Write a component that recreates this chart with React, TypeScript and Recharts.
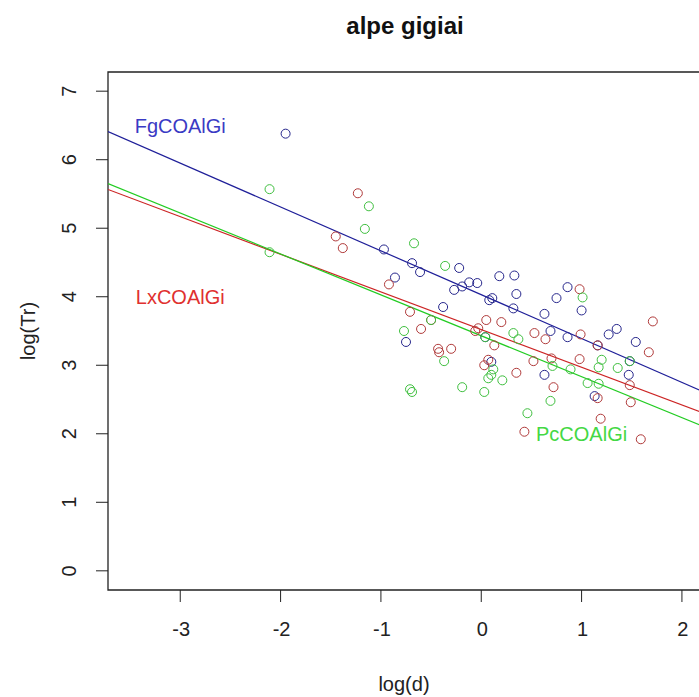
import {
  ComposedChart,
  Scatter,
  XAxis,
  YAxis,
  ReferenceLine,
  ReferenceDot,
  ReferenceArea,
} from "recharts";

const xTicks = [-3, -2, -1, 0, 1, 2];
const yTicks = [0, 1, 2, 3, 4, 5, 6, 7];
const xDomain = [-3.72, 2.22];
const yDomain = [-0.28, 7.28];

// FgCOAlGi
const fgX = [-1.95, -0.97, -0.86, -0.69, -0.61, -0.38, -0.75, -0.22, -0.27, -0.19, -0.12, -0.04, 0.18, 0.33, 0.08, 0.11, 0.35, 0.32, 0.63, 0.86, 0.75, 1.0, 0.69, 0.86, 1.27, 1.35, 1.54, 0.63, 1.47, 1.13, 1.48, 1.16, 0.1, 0.04];
const fgY = [6.38, 4.69, 4.28, 4.49, 4.36, 3.85, 3.34, 4.42, 4.1, 4.15, 4.21, 4.2, 4.3, 4.31, 3.95, 3.98, 4.04, 3.83, 3.75, 4.14, 3.98, 3.8, 3.5, 3.41, 3.45, 3.53, 3.34, 2.86, 2.86, 2.55, 3.06, 3.29, 3.05, 3.41];

// LxCOAlGi
const lxX = [-1.23, -1.45, -1.38, -0.92, -0.71, -0.6, -0.5, -0.43, -0.42, -0.3, -0.06, -0.03, 0.05, 0.2, 0.13, 0.03, 0.07, 0.35, 0.52, 0.53, 0.43, 0.64, 0.7, 0.72, 0.99, 0.98, 0.98, 1.16, 1.48, 1.49, 1.67, 1.71, 1.19, 1.59, 1.16];
const lxY = [5.51, 4.88, 4.71, 4.18, 3.78, 3.53, 3.66, 3.24, 3.19, 3.24, 3.5, 3.54, 3.66, 3.63, 3.29, 3.0, 3.08, 2.89, 3.06, 3.47, 2.03, 3.38, 3.1, 2.68, 3.45, 4.11, 3.09, 3.29, 2.71, 2.46, 3.19, 3.64, 2.22, 1.92, 2.52];

// PcCOAlGi
const pcX = [-2.11, -2.11, -1.12, -1.16, -0.67, -0.36, -0.77, -0.5, -0.71, -0.69, -0.37, -0.19, 0.03, 0.07, 0.1, 0.21, 0.12, 0.04, 0.32, 0.37, 0.46, 0.69, 0.71, 0.89, 1.01, 1.06, 1.17, 1.17, 1.2, 1.36, 1.48];
const pcY = [5.57, 4.65, 5.32, 4.99, 4.78, 4.45, 3.5, 3.66, 2.65, 2.61, 3.06, 2.68, 2.61, 2.81, 2.86, 2.78, 2.94, 3.41, 3.47, 3.38, 2.3, 2.48, 2.99, 2.94, 3.99, 2.74, 2.73, 2.97, 3.08, 2.96, 3.06];

// regression lines: intercept, slope
const fgFit = [4.03, -0.64];
const lxFit = [3.52, -0.55];
const pcFit = [3.43, -0.597];

const series = [
  { name: "FgCOAlGi", xs: fgX, ys: fgY, fit: fgFit, point: "#26268c", line: "#1f1f99", text: "#3a3ac4", at: [-3, 6.5] },
  { name: "LxCOAlGi", xs: lxX, ys: lxY, fit: lxFit, point: "#b03a3a", line: "#cc2424", text: "#e0302f", at: [-3, 4] },
  { name: "PcCOAlGi", xs: pcX, ys: pcY, fit: pcFit, point: "#3fbf3f", line: "#22cc22", text: "#44d844", at: [1, 2] },
];

const font = "'Liberation Sans', Arial, sans-serif";

const Ring = (color: string) => (props: any) => (
  <circle cx={props.cx} cy={props.cy} r={4.5} fill="none" stroke={color} strokeWidth={1} />
);

const XTick = (props: any) => (
  <text x={props.x + 1} y={props.y + 27} textAnchor="middle" dominantBaseline="middle" fontSize={20} fill="#222" fontFamily={font}>
    {props.payload.value}
  </text>
);

const YTick = (props: any) => {
  const x = props.x - 23;
  return (
    <text x={x} y={props.y} transform={`rotate(-90 ${x} ${props.y})`} textAnchor="middle" dominantBaseline="middle" fontSize={20} fill="#222" fontFamily={font}>
      {props.payload.value}
    </text>
  );
};

export default function App() {
  return (
    <div style={{ width: 699, height: 697, overflow: "hidden", position: "relative", background: "#fff" }}>
      <style>{"html,body{margin:0;padding:0;overflow:hidden}"}</style>
      <div style={{ position: "absolute", left: 305, width: 200, top: 12, textAlign: "center", fontFamily: font, fontWeight: "bold", fontSize: 24, color: "#111" }}>
        alpe gigiai
      </div>
      <ComposedChart width={740} height={697} margin={{ top: 72, right: 36, bottom: 7, left: 0 }}>
        <XAxis
          type="number"
          dataKey="x"
          domain={xDomain}
          ticks={xTicks}
          allowDataOverflow
          axisLine={false}
          tickLine={{ stroke: "#222" }}
          tickSize={12}
          height={100}
          tick={<XTick />}
          label={{
            content: (p: any) => (
              <text x={p.viewBox.x + p.viewBox.width / 2 - 2} y={p.viewBox.y + 101} textAnchor="middle" fontSize={20} fill="#222" fontFamily={font}>
                log(d)
              </text>
            ),
          }}
        />
        <YAxis
          type="number"
          dataKey="y"
          domain={yDomain}
          ticks={yTicks}
          allowDataOverflow
          axisLine={false}
          tickLine={{ stroke: "#222" }}
          tickSize={12}
          width={108}
          tick={<YTick />}
          label={{
            content: (p: any) => {
              const x = p.viewBox.x + 30;
              const y = p.viewBox.y + p.viewBox.height / 2;
              return (
                <text x={x} y={y} transform={`rotate(-90 ${x} ${y})`} textAnchor="middle" dominantBaseline="middle" fontSize={20} fill="#222" fontFamily={font}>
                  log(Tr)
                </text>
              );
            },
          }}
        />
        <ReferenceArea x1={xDomain[0]} x2={xDomain[1]} y1={yDomain[0]} y2={yDomain[1]} fill="none" stroke="#222" strokeWidth={1.3} fillOpacity={0} />
        {series.map((s) => (
          <ReferenceLine
            key={s.name + "-fit"}
            segment={[
              { x: xDomain[0], y: s.fit[0] + s.fit[1] * xDomain[0] },
              { x: xDomain[1], y: s.fit[0] + s.fit[1] * xDomain[1] },
            ]}
            stroke={s.line}
            strokeWidth={1.2}
            ifOverflow="hidden"
          />
        ))}
        {series.map((s) => (
          <Scatter
            key={s.name}
            name={s.name}
            data={s.xs.map((x, i) => ({ x, y: s.ys[i] }))}
            shape={Ring(s.point)}
            isAnimationActive={false}
          />
        ))}
        {series.map((s) => (
          <ReferenceDot
            key={s.name + "-label"}
            x={s.at[0]}
            y={s.at[1]}
            r={0}
            fill="none"
            stroke="none"
            label={{ value: s.name, position: "center", fill: s.text, fontSize: 20, fontFamily: font }}
          />
        ))}
      </ComposedChart>
    </div>
  );
}
